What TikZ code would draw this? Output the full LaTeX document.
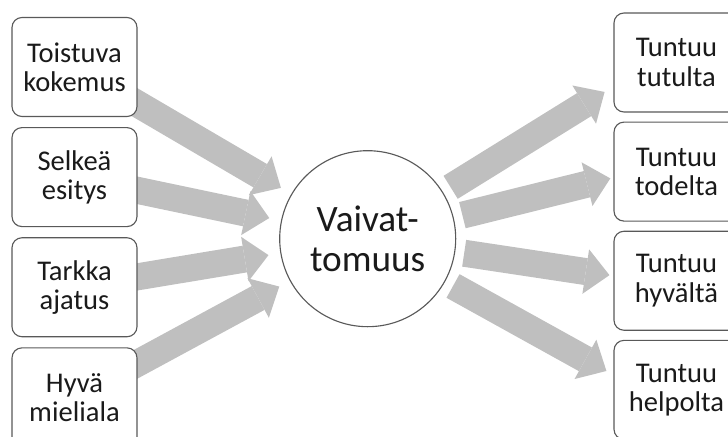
\documentclass[tikz,border=0pt]{standalone}
\usepackage{fontspec}
\setmainfont{Carlito}
\usetikzlibrary{arrows.meta,positioning,calc,backgrounds}
\definecolor{edge}{HTML}{595959}
\definecolor{arrowgray}{HTML}{BFBFBF}
\definecolor{ink}{HTML}{1A1A1A}
\tikzset{
  cause/.style={draw=edge,fill=white,rounded corners=0.25cm,align=center,
    minimum width=3.125cm,minimum height=2.475cm,inner sep=0pt,line width=0.8pt,
    font=\fontsize{20.3pt}{20.8pt}\selectfont,text=ink},
  hub/.style={draw=edge,fill=white,circle,minimum size=4.4cm,inner sep=0pt,
    line width=0.8pt,align=center,font=\fontsize{26.5pt}{28.5pt}\selectfont,text=ink},
  thrust/.style={draw=arrowgray,line width=0.675cm,
    -{Triangle[length=0.6cm,width=1.125cm,line width=0pt]}}
}

\begin{document}
\begin{tikzpicture}
  \useasboundingbox (0,0) rectangle (18.2,-10.925);
  % causes on the left
  \node[cause] (l1) at (1.8625,-1.675) {Toistuva\\kokemus};
  \node[cause,below=0.25cm of l1] (l2) {Selkeä\\esitys};
  \node[cause,below=0.25cm of l2] (l3) {Tarkka\\ajatus};
  \node[cause,below=0.25cm of l3] (l4) {Hyvä\\mieliala};
  % effects on the right
  \node[cause] (r1) at (16.9125,-1.5625) {Tuntuu\\tutulta};
  \node[cause,below=0.225cm of r1] (r2) {Tuntuu\\todelta};
  \node[cause,below=0.225cm of r2] (r3) {Tuntuu\\hyvältä};
  \node[cause,below=0.225cm of r3] (r4) {Tuntuu\\helpolta};
  \node[hub] (core) at (9.1925,-5.9675) {Vaivat-\\tomuus};
  \begin{pgfonlayer}{background}
    \foreach \n in {l1,l2,l3,l4}
      \draw[thrust,shorten >=0.3cm] (\n.center) -- (core);
    \draw[thrust,shorten <=0.225cm,shorten >=0.26cm] (core) -- ($(r1.west)+(0,-0.6)$);
    \draw[thrust,shorten <=0.225cm,shorten >=0.08cm] (core) -- ($(r2.west)+(0,-0.15)$);
    \draw[thrust,shorten <=0.225cm,shorten >=0.1cm] (core) -- ($(r3.west)+(0,0.125)$);
    \draw[thrust,shorten <=0.225cm,shorten >=0.2cm] (core) -- ($(r4.west)+(0,0.375)$);
  \end{pgfonlayer}
\end{tikzpicture}
\end{document}
